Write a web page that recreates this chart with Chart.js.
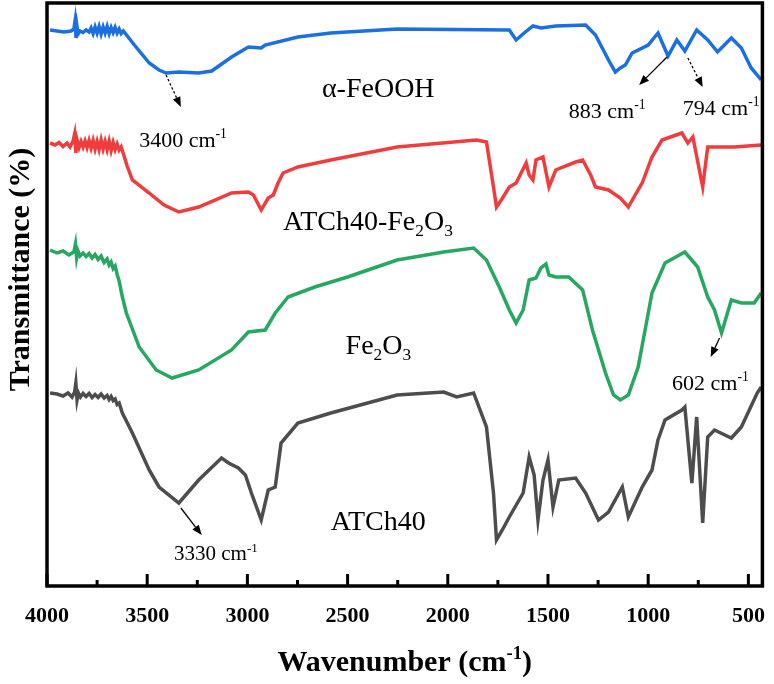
<!DOCTYPE html>
<html>
<head>
<meta charset="utf-8">
<script src="https://cdn.jsdelivr.net/npm/chart.js@4.4.1/dist/chart.umd.min.js"></script>
<style>
  html, body { margin: 0; padding: 0; background: #fff; }
  #wrap { width: 774px; height: 684px; }
</style>
</head>
<body>
<div id="wrap"><canvas id="ftir" width="774" height="684"></canvas></div>
<script>
const SERIF = '"Liberation Serif", "Times New Roman", serif';

// x axis (wavenumber, cm-1), reversed
const X_MIN = 430, X_MAX = 4000;
const X_TICKS = [4000, 3500, 3000, 2500, 2000, 1500, 1000, 500];
const X_MINOR = [3750, 3250, 2750, 2250, 1750, 1250, 750];

// alpha-FeOOH (blue)
const WN_FEOOH = [3985,3950,3915,3880,3866,3860,3855,3850,3845,3835,3820,3805,3790,3780,3770,3760,3750,3740,3730,3720,3710,3700,3690,3680,3670,3660,3650,3640,3630,3619,
  3564,3490,3441,3406,3342,3243,3178,3079,2995,2931,2911,2748,2584,2253,1693,1659,1619,1575,1535,1461,1312,1263,1198,1164,1139,1114,1080,1000,951,901,857,817,758,703,654,585,535,486,456,436];
const T_FEOOH  = [111.2,111.0,110.8,111.0,111.4,113.0,109.6,111.8,110.4,111.0,110.7,111.2,110.8,111.6,110.5,111.8,110.6,111.9,110.4,111.8,110.6,111.9,110.5,111.7,110.7,111.7,110.6,111.4,110.5,111.0,
  108.2,104.6,103.2,102.6,102.8,102.6,103.0,105.8,107.8,107.6,108.2,109.8,110.6,111.4,111.2,109.2,110.6,112.0,111.6,112.0,112.2,110.2,105.2,102.8,103.6,104.2,106.6,108.2,110.6,106.0,109.2,107.0,111.2,109.2,106.8,109.6,107.6,103.6,102.2,101.2];

// ATCh40-Fe2O3 (red)
const WN_ATCH_FE = [3985,3960,3940,3920,3900,3885,3870,3862,3856,3850,3840,3830,3820,3810,3800,3790,3780,3770,3760,3750,3740,3730,3720,3710,3700,3690,3680,3670,3660,3650,3640,3630,3620,3600,
  3574,3490,3416,3342,3243,3079,2995,2970,2931,2896,2871,2847,2822,2748,2584,2253,1857,1807,1772,1757,1733,1693,1659,1609,1594,1575,1560,1525,1495,1461,1426,1362,1327,1287,1263,1198,1139,1099,1065,1030,981,931,832,802,777,728,703,570,436];
const T_ATCH_FE  = [88.6,88.2,88.7,87.9,88.6,87.8,89.0,90.4,86.6,89.2,87.7,88.9,87.8,89.0,87.7,89.1,87.6,89.1,87.4,88.9,87.3,89.2,87.4,88.9,87.3,89.0,87.1,88.7,87.3,88.4,87.2,87.8,86.6,84.0,
  81.2,78.6,76.2,74.8,75.8,78.6,78.8,78.2,75.2,77.6,78.2,80.6,82.6,83.8,85.2,87.8,89.2,88.8,79.8,75.8,77.2,79.8,80.6,84.6,82.2,81.2,85.2,85.8,79.8,83.2,83.8,84.8,85.2,82.2,79.8,79.2,77.6,75.8,78.2,80.6,85.8,89.2,90.6,88.6,89.8,79.8,87.8,87.8,88.2];

// Fe2O3 (green)
const WN_FE2O3 = [3985,3950,3920,3890,3866,3858,3852,3845,3835,3820,3805,3790,3775,3760,3745,3730,3715,3700,3690,3680,3670,3660,3650,3640,3625,
  3604,3540,3455,3376,3243,3079,2995,2911,2861,2797,2664,2500,2253,2020,1871,1807,1743,1693,1659,1624,1594,1560,1535,1510,1495,1461,1396,1327,1278,1213,1173,1139,1099,1050,981,916,817,753,703,669,634,585,535,471,436];
const T_FE2O3  = [67.2,66.6,67.0,66.2,66.8,68.4,65.6,67.0,66.0,66.6,65.9,66.5,65.6,66.3,65.3,66.0,64.7,65.4,64.2,64.8,63.5,64.0,62.3,61.0,58.0,
  54.6,47.8,43.2,41.6,43.2,47.2,50.8,51.2,54.6,57.8,59.8,61.8,65.2,66.8,67.6,65.2,59.8,55.2,52.6,55.2,61.2,61.6,63.6,64.4,62.2,61.8,61.8,59.2,51.2,42.6,38.2,37.2,38.2,43.8,58.6,64.6,66.8,63.8,57.8,55.2,50.6,57.2,56.6,56.6,58.6];

// ATCh40 (grey)
const WN_ATCH = [3985,3950,3920,3895,3875,3862,3856,3850,3843,3833,3820,3805,3790,3775,3760,3745,3730,3715,3700,3690,3680,3670,3660,3650,3640,
  3624,3574,3490,3441,3342,3243,3129,3094,3045,3010,2980,2931,2896,2861,2832,2748,2584,2253,2020,1956,1871,1807,1772,1757,1728,1693,1624,1594,1569,1550,1525,1500,1475,1446,1362,1312,1248,1198,1129,1099,1030,981,951,916,832,817,782,758,728,703,669,585,535,456,436];
const T_ATCH  = [38.6,38.4,38.0,38.6,37.8,38.8,40.6,37.2,38.6,37.8,38.5,37.9,38.5,37.7,38.3,37.7,38.4,37.6,38.1,37.3,37.9,37.1,37.4,36.3,36.6,
  34.6,30.6,23.2,19.8,16.6,21.2,25.6,24.6,23.6,22.2,18.6,13.2,19.2,19.8,28.6,32.6,34.6,38.2,38.8,37.8,38.6,31.8,18.6,9.2,11.2,13.8,18.6,25.8,22.2,13.2,21.2,25.2,15.8,21.2,21.6,18.6,13.2,14.8,19.8,13.8,19.8,23.2,29.2,33.2,35.2,35.8,20.6,33.8,12.6,29.8,31.2,29.6,31.8,38.6,39.8];

const Y_MAX = 116.6;

// text annotations, placed in data coordinates (wavenumber, offset transmittance)
const notes = [
  { text: 'α-FeOOH',          wn: 2347, t: 97.8, size: 28, align: 'center' },
  { text: '3400 cm^{-1}',     wn: 3540, t: 87.8, size: 22 },
  { text: '883 cm^{-1}',      wn: 1396, t: 93.6, size: 22 },
  { text: '794 cm^{-1}',      wn: 827,  t: 94.2, size: 22 },
  { text: 'ATCh40-Fe_{2}O_{3}', wn: 2822, t: 71.2, size: 28 },
  { text: 'Fe_{2}O_{3}',      wn: 2510, t: 46.4, size: 28 },
  { text: '602 cm^{-1}',      wn: 881,  t: 39.2, size: 22 },
  { text: 'ATCh40',           wn: 2584, t: 11.2, size: 28 },
  { text: '3330 cm^{-1}',     wn: 3366, t: 5.2,  size: 21 }
];

const arrows = [
  { from: [3406, 102.2], to: [3332, 95.8], dashed: true },
  { from: [906, 105.8],  to: [1045, 100.2], dashed: false },
  { from: [802, 105.6],  to: [728, 99.8],  dashed: true },
  { from: [644, 49.6],   to: [688, 45.8],  dashed: false },
  { from: [3332, 15.6],  to: [3228, 10.2], dashed: false }
];

function pts(wn, t) { return wn.map((x, i) => ({ x, y: t[i] })); }

function parseRich(s) {
  return s.split(/(\^\{[^}]*\}|_\{[^}]*\})/).filter(Boolean).map(p =>
    p[0] === '^' ? { t: p.slice(2, -1), m: 'sup' } :
    p[0] === '_' ? { t: p.slice(2, -1), m: 'sub' } : { t: p, m: '' });
}

function drawRich(ctx, s, x, y, size, weight, align) {
  const parts = parseRich(s);
  const font = sz => `${weight} ${sz}px ${SERIF}`;
  let w = 0;
  parts.forEach(p => {
    ctx.font = font(p.m ? size * 0.62 : size);
    p.w = ctx.measureText(p.t).width;
    w += p.w;
  });
  let cx = align === 'center' ? x - w / 2 : x;
  ctx.textAlign = 'left';
  ctx.textBaseline = 'alphabetic';
  parts.forEach(p => {
    ctx.font = font(p.m ? size * 0.62 : size);
    const dy = p.m === 'sup' ? -size * 0.4 : p.m === 'sub' ? size * 0.22 : 0;
    ctx.fillText(p.t, cx, y + dy);
    cx += p.w;
  });
}

function arrow(ctx, x0, y0, x1, y1, dashed) {
  const ang = Math.atan2(y1 - y0, x1 - x0);
  const head = 10, half = 4;
  const bx = x1 - head * Math.cos(ang), by = y1 - head * Math.sin(ang);
  ctx.save();
  ctx.lineWidth = 1.3;
  ctx.setLineDash(dashed ? [2.5, 2] : []);
  ctx.beginPath(); ctx.moveTo(x0, y0); ctx.lineTo(bx, by); ctx.stroke();
  ctx.setLineDash([]);
  ctx.beginPath();
  ctx.moveTo(x1, y1);
  ctx.lineTo(bx + half * Math.sin(ang), by - half * Math.cos(ang));
  ctx.lineTo(bx - half * Math.sin(ang), by + half * Math.cos(ang));
  ctx.closePath(); ctx.fill();
  ctx.restore();
}

const decor = {
  id: 'decor',
  afterDatasetsDraw(chart) {
    const { ctx, chartArea: a, scales: { x, y } } = chart;
    ctx.save();
    ctx.strokeStyle = '#000';
    ctx.fillStyle = '#000';

    // inward tick marks on the bottom axis
    ctx.lineWidth = 3;
    ctx.beginPath();
    X_TICKS.forEach(v => { const px = x.getPixelForValue(v); ctx.moveTo(px, a.bottom); ctx.lineTo(px, a.bottom - 12); });
    X_MINOR.forEach(v => { const px = x.getPixelForValue(v); ctx.moveTo(px, a.bottom); ctx.lineTo(px, a.bottom - 6); });
    ctx.stroke();

    // frame
    ctx.lineWidth = 3.5;
    ctx.strokeRect(a.left, a.top, a.right - a.left, a.bottom - a.top);

    arrows.forEach(r => arrow(ctx,
      x.getPixelForValue(r.from[0]), y.getPixelForValue(r.from[1]),
      x.getPixelForValue(r.to[0]), y.getPixelForValue(r.to[1]), r.dashed));

    notes.forEach(n => drawRich(ctx, n.text, x.getPixelForValue(n.wn), y.getPixelForValue(n.t), n.size, 'normal', n.align));

    // axis titles
    drawRich(ctx, 'Wavenumber (cm^{-1})', (a.left + a.right) / 2, chart.height - 13, 30, 'bold', 'center');
    ctx.translate(29, (a.top + a.bottom) / 2 - 25);
    ctx.rotate(-Math.PI / 2);
    drawRich(ctx, 'Transmittance (%)', 0, 0, 30, 'bold', 'center');
    ctx.restore();
  }
};

const line = (label, wn, t, color) => ({
  label, data: pts(wn, t), borderColor: color, backgroundColor: color,
  borderWidth: 3.5, pointRadius: 0, tension: 0, fill: false
});

new Chart(document.getElementById('ftir'), {
  type: 'line',
  data: {
    datasets: [
      line('α-FeOOH', WN_FEOOH, T_FEOOH, '#1c6fe0'),
      line('ATCh40-Fe2O3', WN_ATCH_FE, T_ATCH_FE, '#f03c3c'),
      line('Fe2O3', WN_FE2O3, T_FE2O3, '#26a862'),
      line('ATCh40', WN_ATCH, T_ATCH, '#4d4d4d')
    ]
  },
  options: {
    responsive: false,
    animation: false,
    layout: { padding: { top: 3, right: 6, left: 0, bottom: 0 } },
    plugins: { legend: { display: false }, tooltip: { enabled: false } },
    scales: {
      x: {
        type: 'linear', reverse: true, min: X_MIN, max: X_MAX,
        grid: { display: false }, border: { display: false },
        afterBuildTicks: s => { s.ticks = X_TICKS.map(v => ({ value: v })); },
        afterFit: s => { s.height = 98; },
        ticks: { color: '#000', padding: 9, maxRotation: 0, autoSkip: false,
                 callback: v => String(v),
                 font: { family: SERIF, size: 22, weight: 'bold' } }
      },
      y: {
        min: 0, max: Y_MAX,
        grid: { display: false }, border: { display: false },
        ticks: { display: false },
        afterFit: s => { s.width = 47; }
      }
    }
  },
  plugins: [decor]
});
</script>
</body>
</html>
